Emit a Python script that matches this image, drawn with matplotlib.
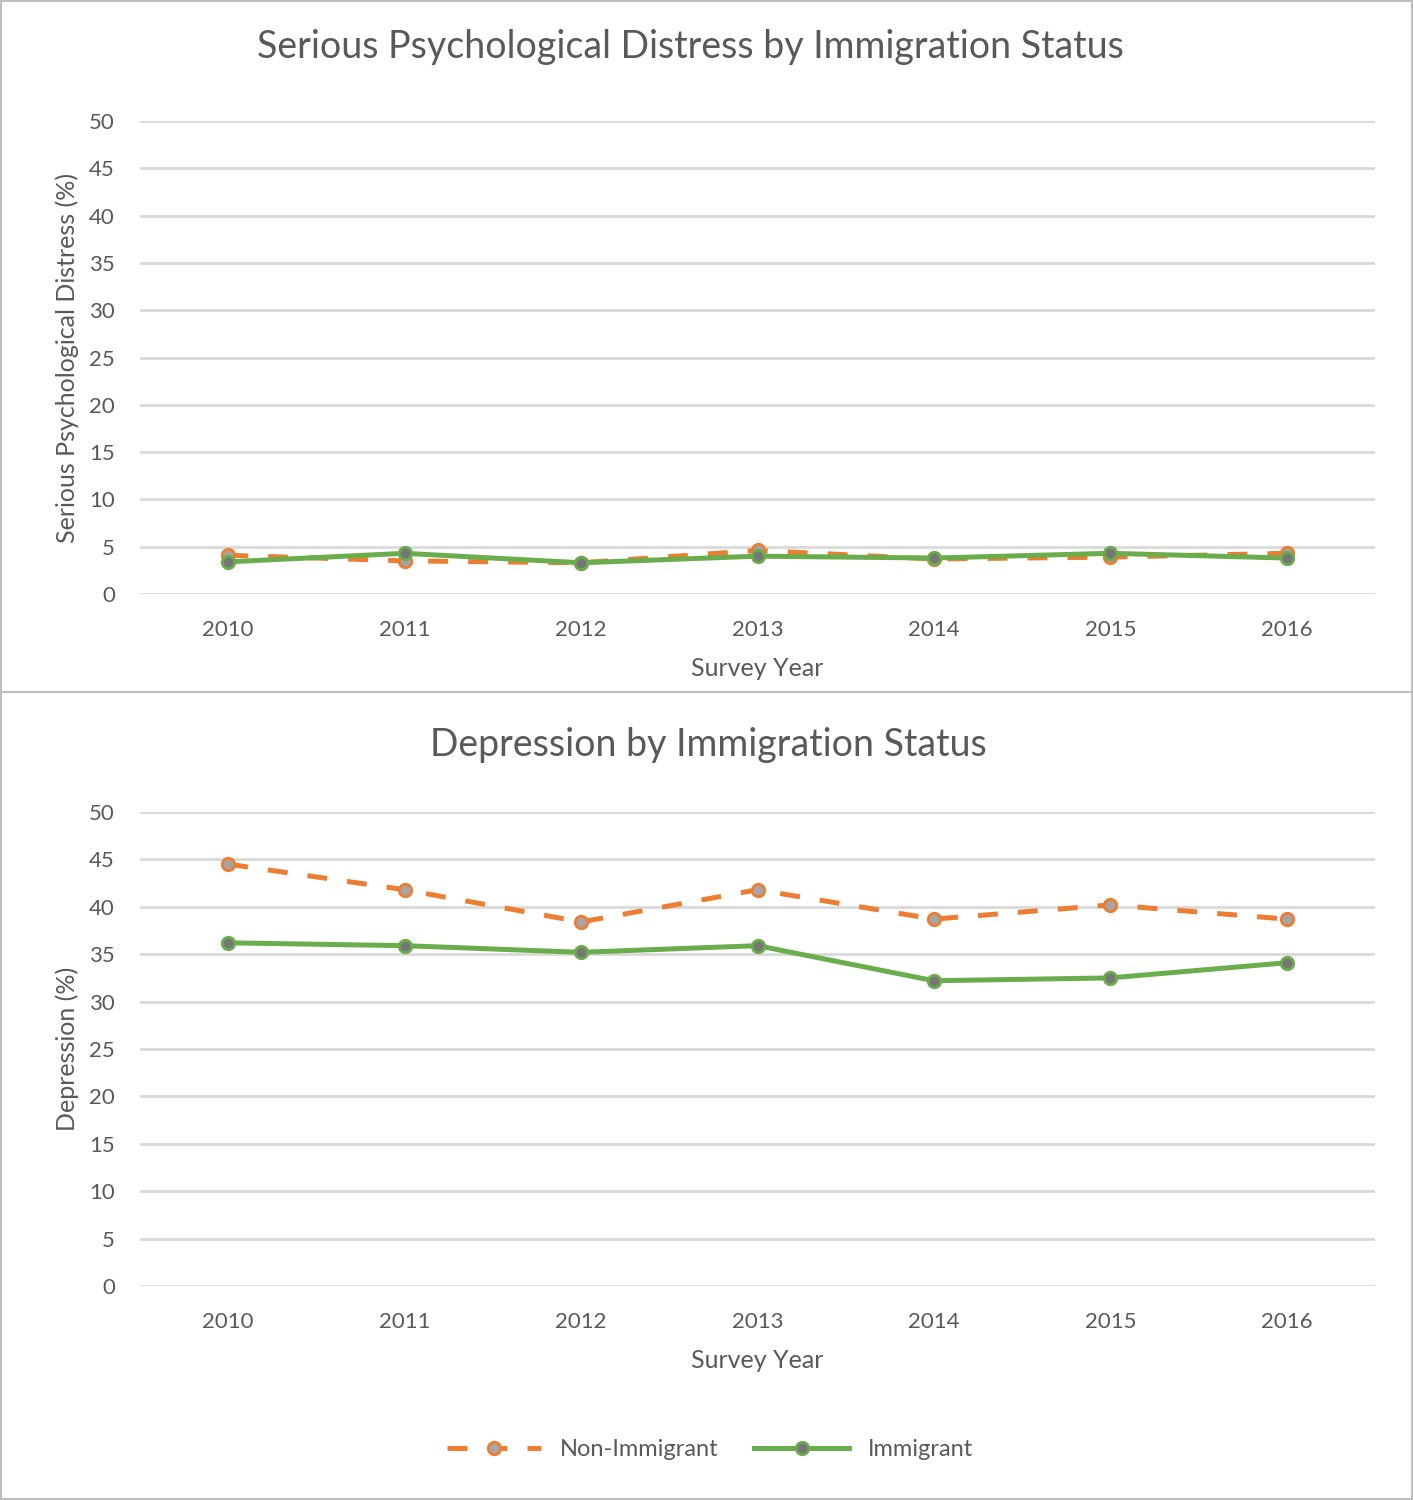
import matplotlib.pyplot as plt
from matplotlib.lines import Line2D

plt.rcParams['font.family'] = ['Lato', 'DejaVu Sans']

years = ["2010", "2011", "2012", "2013", "2014", "2015", "2016"]

# Serious psychological distress (%)
spd_non_immigrant = [4.1, 3.5, 3.3, 4.6, 3.7, 3.9, 4.3]
spd_immigrant = [3.4, 4.3, 3.3, 4.0, 3.8, 4.3, 3.8]

# Depression (%)
dep_non_immigrant = [44.5, 41.8, 38.4, 41.8, 38.7, 40.2, 38.7]
dep_immigrant = [36.2, 35.9, 35.2, 35.9, 32.2, 32.5, 34.1]

TEXT = "#595959"
ORANGE = "#ED7D31"
GREEN = "#6AAD4C"
GRID = "#D9D9D9"

fig = plt.figure(figsize=(14.13, 15), dpi=100)

# outer frame and separator between the two charts
fig.add_artist(plt.Rectangle((0.0005, 0.0005), 0.999, 0.999, transform=fig.transFigure,
                             fill=False, edgecolor="#BFBFBF", linewidth=1.5))
fig.add_artist(Line2D([0, 1], [1 - 692 / 1500] * 2, transform=fig.transFigure,
                      color="#BFBFBF", linewidth=1.5))

W, H = 1413, 1500
x0, x1 = 140, 1375


def make_axes(top_px, bottom_px):
    return fig.add_axes([x0 / W, 1 - bottom_px / H, (x1 - x0) / W, (bottom_px - top_px) / H])


def style(ax, title, ylabel, title_x, title_y):
    ax.set_ylim(0, 50)
    ax.set_xlim(-0.5, 6.5)
    ax.set_yticks(range(0, 51, 5))
    ax.set_xticks(range(len(years)))
    ax.set_xticklabels(years)
    ax.yaxis.grid(True, color=GRID, linewidth=2)
    ax.set_axisbelow(True)
    for s in ax.spines.values():
        s.set_visible(False)
    ax.tick_params(length=0, labelsize=16, colors=TEXT)
    ax.tick_params(axis="x", pad=19)
    ax.tick_params(axis="y", pad=18)
    ax.set_xlabel("Survey Year", fontsize=18, color=TEXT, labelpad=12)
    ax.set_ylabel(ylabel, fontsize=18, color=TEXT)
    ax.yaxis.set_label_coords(-0.049, 0.5)
    fig.text(title_x / W, 1 - title_y / H, title, fontsize=27, color=TEXT,
             ha="center", va="center")


def draw(ax, non_imm, imm):
    x = range(len(years))
    ax.plot(x, non_imm, color=ORANGE, linewidth=3.6, linestyle=(0, (4, 4)),
            marker="o", markersize=9, markerfacecolor="#A5A5A5",
            markeredgecolor=ORANGE, markeredgewidth=2, label="Non-Immigrant", zorder=3)
    ax.plot(x, imm, color=GREEN, linewidth=3.6, marker="o", markersize=9,
            markerfacecolor="#767676", markeredgecolor=GREEN, markeredgewidth=2,
            label="Immigrant", zorder=4)


ax1 = make_axes(121, 594)
draw(ax1, spd_non_immigrant, spd_immigrant)
style(ax1, "Serious Psychological Distress by Immigration Status",
      "Serious Psychological Distress (%)", 690, 47)

ax2 = make_axes(812, 1286)
draw(ax2, dep_non_immigrant, dep_immigrant)
style(ax2, "Depression by Immigration Status", "Depression (%)", 708, 745)

handles, labels = ax2.get_legend_handles_labels()
fig.legend(handles, labels, loc="center", bbox_to_anchor=(710 / W, 1 - 1450 / H),
           ncol=2, frameon=False, fontsize=17, handlelength=4, columnspacing=1.5,
           labelcolor=TEXT)

fig.savefig("out.png", dpi=100)
